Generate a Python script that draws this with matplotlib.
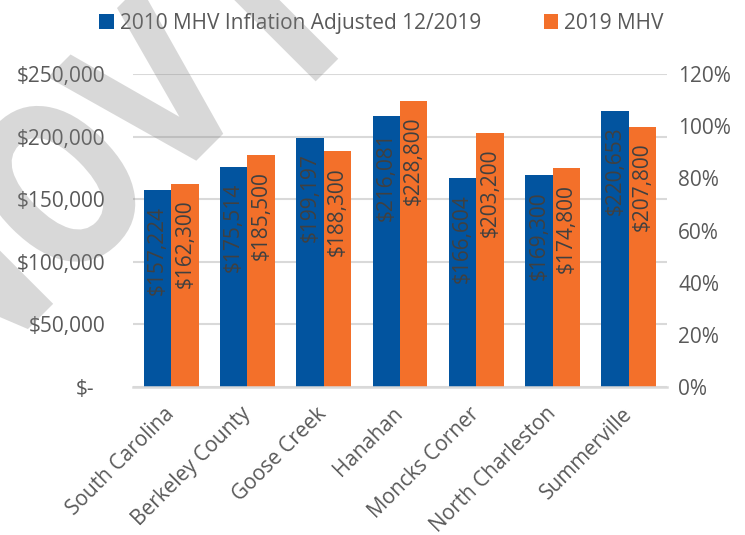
import matplotlib
matplotlib.use("Agg")
import matplotlib.pyplot as plt
import matplotlib.transforms as mtransforms
from matplotlib.ticker import FuncFormatter
from matplotlib.textpath import TextPath
from matplotlib.patches import PathPatch
from matplotlib.font_manager import FontProperties
import numpy as np

# chart data
places = ["South Carolina", "Berkeley County", "Goose Creek", "Hanahan",
          "Moncks Corner", "North Charleston", "Summerville"]
mhv_2010_adj = [157224, 175514, 199197, 216081, 166604, 169300, 220653]
mhv_2019 = [162300, 185500, 188300, 228800, 203200, 174800, 207800]
series_names = ["2010 MHV Inflation Adjusted 12/2019", "2019 MHV"]
left_ticks = [0, 50000, 100000, 150000, 200000, 250000]
right_ticks = [0, 0.2, 0.4, 0.6, 0.8, 1.0, 1.2]

BLUE = "#02549F"
ORANGE = "#F3702A"
GRID = "#D9D9D9"
TXT = "#595959"
LBL = "#404040"

plt.rcParams["font.family"] = ["Open Sans", "DejaVu Sans"]
FS = 15

fig = plt.figure(figsize=(7.45, 5.35), dpi=100)
ax = fig.add_axes([0.1785, 0.2766, 0.7168, 0.5851])

x = np.arange(len(places))
w = 0.36
b1 = ax.bar(x - w / 2, mhv_2010_adj, w, color=BLUE, label=series_names[0], zorder=2)
b2 = ax.bar(x + w / 2, mhv_2019, w, color=ORANGE, label=series_names[1], zorder=2)

for bars, vals in ((b1, mhv_2010_adj), (b2, mhv_2019)):
    for rect, v in zip(bars, vals):
        ax.annotate(f"${v:,.0f}", xy=(rect.get_x() + rect.get_width() / 2, v),
                    xytext=(0, -11.5), textcoords="offset points",
                    rotation=90, ha="center", va="top", fontsize=FS,
                    color=LBL, zorder=3)

ax.set_xlim(-0.5, len(places) - 0.5)
ax.set_ylim(0, 250000)
ax.set_yticks(left_ticks)
ax.yaxis.set_major_formatter(FuncFormatter(lambda v, p: "$-" if v == 0 else f"${v:,.0f}"))
ax.grid(axis="y", color=GRID, linewidth=1.5, zorder=0)
ax.set_axisbelow(True)
for s in ("top", "right", "left"):
    ax.spines[s].set_visible(False)
ax.spines["bottom"].set_color(GRID)
ax.spines["bottom"].set_linewidth(1.8)
ax.tick_params(axis="y", length=0, pad=20, labelsize=FS, labelcolor=TXT)
ax.set_xticks(x)
ax.set_xticklabels(places, rotation=45, ha="right", va="center",
                   rotation_mode="anchor", fontsize=FS, color=TXT)
ax.tick_params(axis="x", length=0, pad=17)

# shift the "$-" label like Excel accounting format
zero_lbl = ax.get_yticklabels()[0]
zero_lbl.set_transform(zero_lbl.get_transform() +
                       mtransforms.ScaledTranslation(-11 / 100, 0, fig.dpi_scale_trans))

ax2 = ax.twinx()
ax2.set_ylim(0, 1.2)
ax2.set_yticks(right_ticks)
ax2.yaxis.set_major_formatter(FuncFormatter(lambda v, p: f"{v * 100:.0f}%"))
for s in ax2.spines.values():
    s.set_visible(False)
ax2.tick_params(axis="y", length=0, pad=8, labelsize=FS, labelcolor=TXT)

fig.legend(handles=[b1, b2], labels=series_names, loc="center",
           bbox_to_anchor=(0.512, 0.957), ncol=2, frameon=False, fontsize=FS,
           labelcolor=TXT, handlelength=0.7, handleheight=0.7,
           handletextpad=0.3, columnspacing=3.0)

# draft watermark: condensed, rotated letters drawn as paths in pixel coords
wm_font = FontProperties(family="DejaVu Sans", weight="bold")
wm_parts = [("NOV", (-36.4, 141.6)), ("I", (304.6, 442.6))]
for letters, (tx, ty) in wm_parts:
    tr = mtransforms.Affine2D().scale(170, 225).rotate_deg(45).translate(tx, ty)
    fig.patches.append(PathPatch(TextPath((0, 0), letters, size=1, prop=wm_font),
                                 transform=tr, facecolor="#808080",
                                 edgecolor="none", alpha=0.3, zorder=10))

fig.savefig("out.png", dpi=100)
